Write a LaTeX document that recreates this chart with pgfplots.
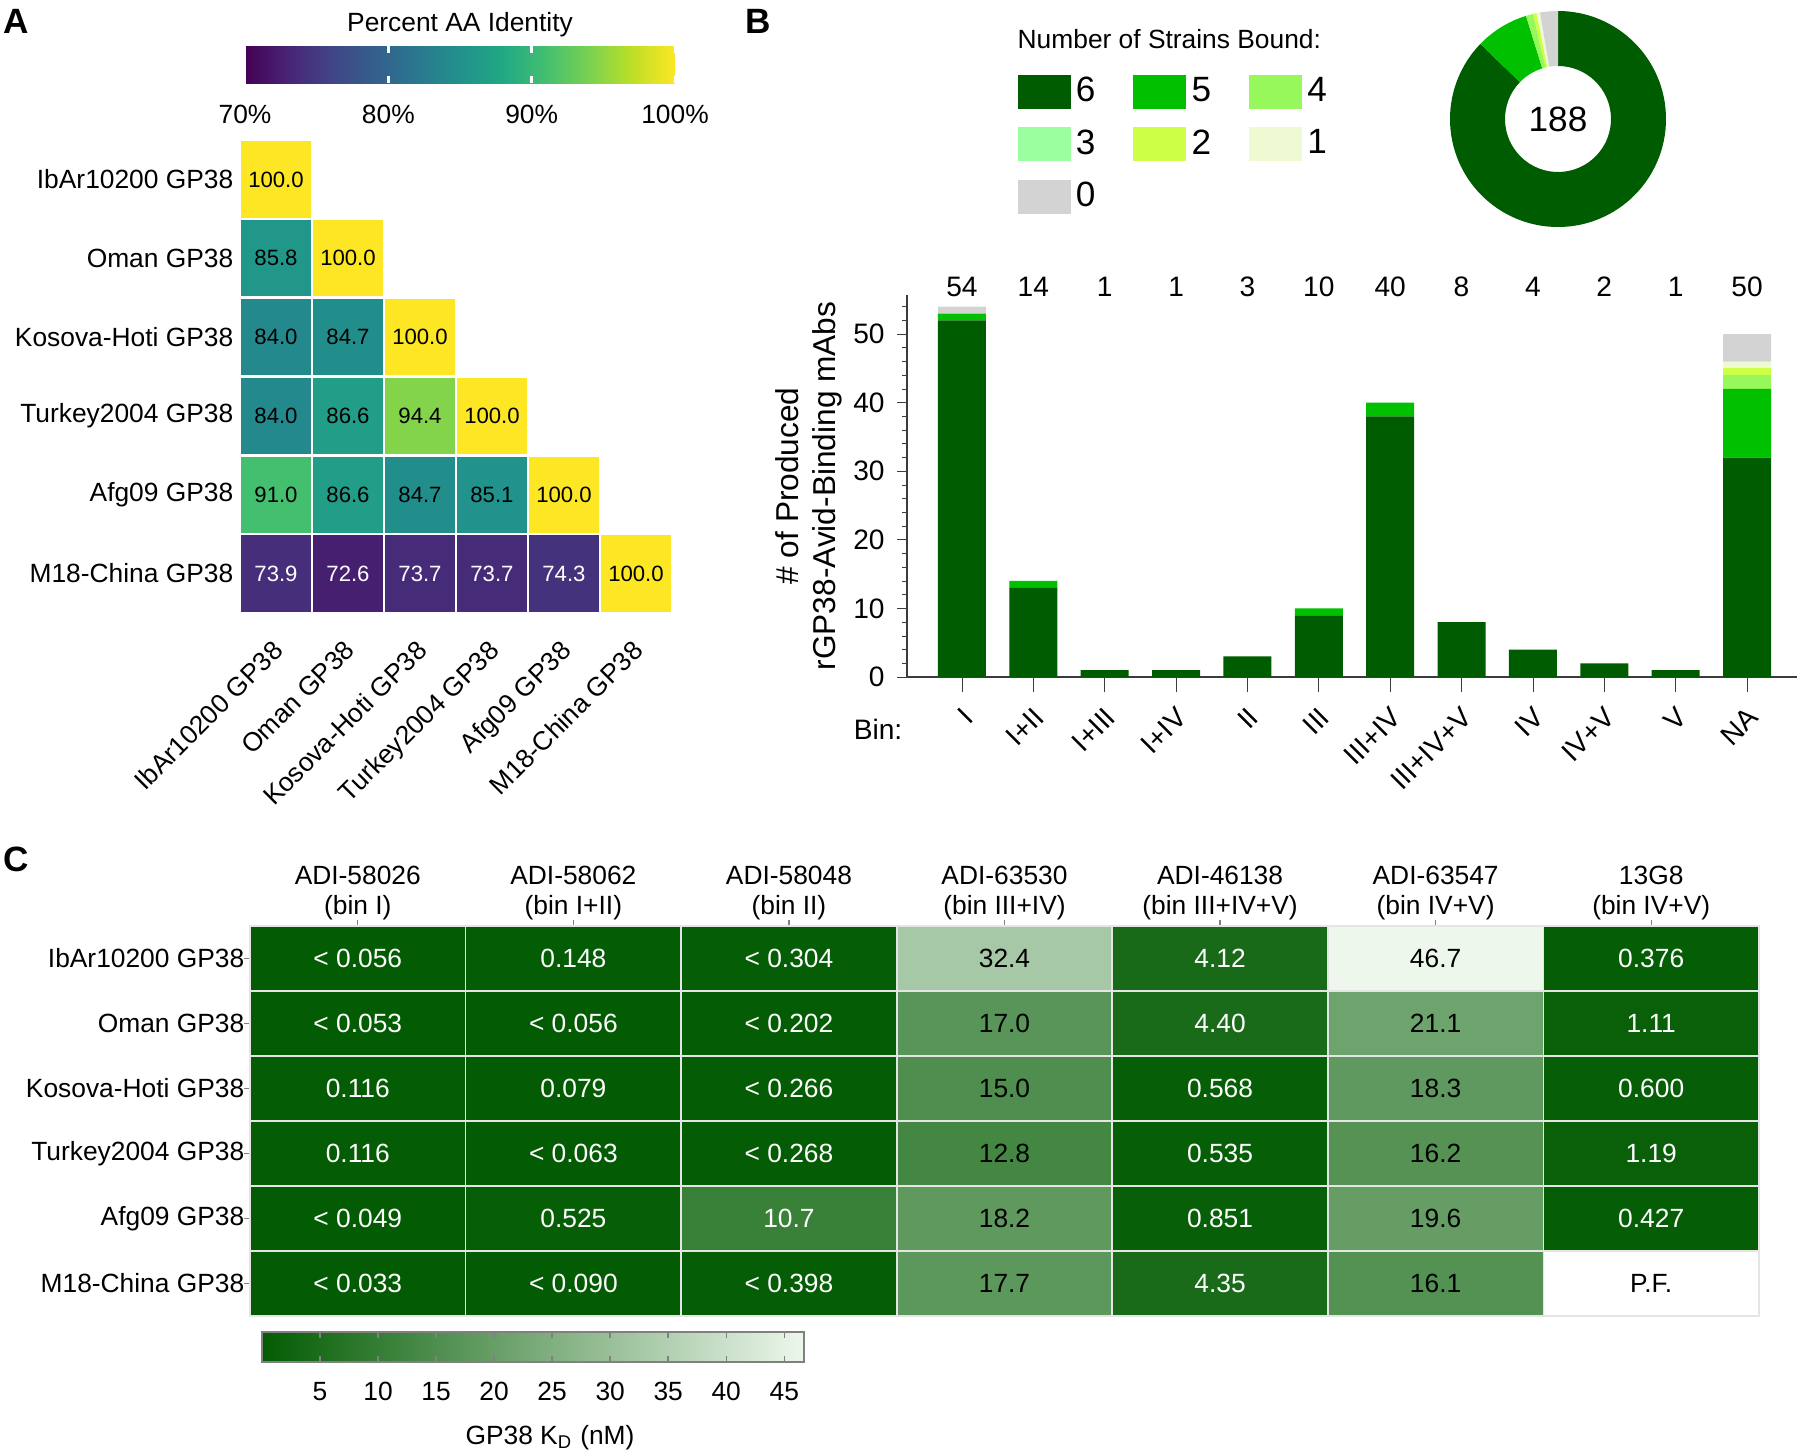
\documentclass[border=0pt]{standalone}
\usepackage{fontspec}
\setmainfont{Liberation Sans}
\usepackage{pgfplots}
\usepackage{pgfplotstable}
\pgfplotsset{compat=1.18}

\newcommand\fs{\fontsize{7.5}{9}\selectfont}
\newcommand\fsb{\fontsize{8}{9.6}\selectfont}
\newcommand\fsc{\fontsize{6.3}{7.5}\selectfont}

\definecolor{s6}{RGB}{0,92,0}
\definecolor{s5}{RGB}{0,192,0}
\definecolor{s4}{RGB}{150,248,90}
\definecolor{s3}{RGB}{155,255,160}
\definecolor{s2}{RGB}{205,255,70}
\definecolor{s1}{RGB}{238,250,210}
\definecolor{s0}{RGB}{211,211,211}
\definecolor{axgray}{RGB}{60,60,60}

\pgfplotsset{
  /pgf/number format/assume math mode=true,
  swatch/.style={legend image code/.code={\fill[##1] (0cm,-0.17cm) rectangle (0.53cm,0.17cm);}},
  colormap={vir}{rgb255=(68,1,84) rgb255=(72,36,117) rgb255=(65,68,135) rgb255=(53,95,141)
    rgb255=(42,120,142) rgb255=(33,145,140) rgb255=(34,168,132) rgb255=(68,191,112)
    rgb255=(122,209,81) rgb255=(189,223,38) rgb255=(253,231,37)},
  colormap={kd}{rgb255=(3,92,3) rgb255=(237,247,236)},
}

% heatmap cells, sized to the grid
\pgfdeclareplotmark{cellA}{\pgfpathrectanglecorners{\pgfpoint{-0.36cm}{-0.394cm}}{\pgfpoint{0.36cm}{0.394cm}}\pgfusepathqfillstroke}
\pgfdeclareplotmark{cellC}{\pgfpathrectanglecorners{\pgfpoint{-1.078cm}{-0.325cm}}{\pgfpoint{1.078cm}{0.325cm}}\pgfusepathqfillstroke}

% percent AA identity (lower triangle); w=1 -> white text
\pgfplotstableread{
x y v w
0 0 100.0 0
0 1 85.8 0
1 1 100.0 0
0 2 84.0 0
1 2 84.7 0
2 2 100.0 0
0 3 84.0 0
1 3 86.6 0
2 3 94.4 0
3 3 100.0 0
0 4 91.0 0
1 4 86.6 0
2 4 84.7 0
3 4 85.1 0
4 4 100.0 0
0 5 73.9 1
1 5 72.6 1
2 5 73.7 1
3 5 73.7 1
4 5 74.3 1
5 5 100.0 0
}\identity

% GP38 KD (nM)
\pgfplotstableread[col sep=comma]{
x,y,v,lab,w
0,0,0.056,< 0.056,1
1,0,0.148,0.148,1
2,0,0.304,< 0.304,1
3,0,32.4,32.4,0
4,0,4.12,4.12,1
5,0,46.7,46.7,0
6,0,0.376,0.376,1
0,1,0.053,< 0.053,1
1,1,0.056,< 0.056,1
2,1,0.202,< 0.202,1
3,1,17.0,17.0,0
4,1,4.40,4.40,1
5,1,21.1,21.1,0
6,1,1.11,1.11,1
0,2,0.116,0.116,1
1,2,0.079,0.079,1
2,2,0.266,< 0.266,1
3,2,15.0,15.0,0
4,2,0.568,0.568,1
5,2,18.3,18.3,0
6,2,0.600,0.600,1
0,3,0.116,0.116,1
1,3,0.063,< 0.063,1
2,3,0.268,< 0.268,1
3,3,12.8,12.8,0
4,3,0.535,0.535,1
5,3,16.2,16.2,0
6,3,1.19,1.19,1
0,4,0.049,< 0.049,1
1,4,0.525,0.525,1
2,4,10.7,10.7,1
3,4,18.2,18.2,0
4,4,0.851,0.851,1
5,4,19.6,19.6,0
6,4,0.427,0.427,1
0,5,0.033,< 0.033,1
1,5,0.090,< 0.090,1
2,5,0.398,< 0.398,1
3,5,17.7,17.7,0
4,5,4.35,4.35,1
5,5,16.1,16.1,0
}\kd

\begin{document}
\begin{tikzpicture}[font=\fs]
\useasboundingbox (0,0) rectangle (18,-14.52);

\node[font=\fontsize{10}{12}\selectfont\bfseries] at (0.16,-0.21) {A};
\node[font=\fontsize{10}{12}\selectfont\bfseries] at (7.58,-0.21) {B};
\node[font=\fontsize{10}{12}\selectfont\bfseries] at (0.16,-8.59) {C};
\node at (4.60,-0.25) {Percent AA Identity};

% ---------- A ----------
\begin{axis}[
  at={(2.40cm,-1.40cm)}, anchor=north west, scale only axis,
  width=4.32cm, height=4.73cm,
  xmin=-0.5, xmax=5.5, ymin=-0.5, ymax=5.5, y dir=reverse,
  axis line style={draw=none}, major tick length=0pt,
  xtick={0,...,5}, ytick={0,...,5},
  xticklabels={IbAr10200 GP38, Oman GP38, Kosova-Hoti GP38, Turkey2004 GP38, Afg09 GP38, M18-China GP38},
  yticklabels={IbAr10200 GP38, Oman GP38, Kosova-Hoti GP38, Turkey2004 GP38, Afg09 GP38, M18-China GP38},
  tick label style={font=\fs},
  xticklabel style={xshift=-0.05cm, yshift=-0.25cm, rotate=45, anchor=north east, inner sep=0pt},
  yticklabel style={inner sep=0pt, xshift=-0.06cm},
  colormap name=vir, point meta min=70, point meta max=100,
  colorbar horizontal,
  colorbar style={
    at={(0.0116,1.1205)}, anchor=south west,
    scale only axis, width=4.30cm, height=0.37cm,
    xtick={70,80,90,100},
    xticklabel={\pgfmathprintnumber{\tick}\%},
    xticklabel pos=lower, xtick pos=both,
    tick align=inside, major tick length=0.07cm,
    xtick style={white, line width=0.8pt},
    axis line style={draw=none},
    xticklabel style={font=\fs, yshift=-0.1cm},
  },
  clip=false,
]
\addplot[scatter, only marks, mark=cellA,
  scatter/use mapped color={draw=white, fill=mapped color},
  mark options={line width=0.7pt},
  point meta=\thisrow{v},
] table[x=x, y=y] {\identity};
\addplot[only marks, mark=none,
  point meta=\thisrow{v},
  visualization depends on={\thisrow{w}\as\wt},
  nodes near coords={\ifdim\wt pt>0.5pt\color{white}\fi\pgfmathprintnumber[fixed,fixed zerofill,precision=1]{\pgfplotspointmeta}},
  nodes near coords align=center,
  every node near coord/.append style={font=\fsc, anchor=center},
] table[x=x, y=y] {\identity};
\end{axis}

% ---------- B: stacked bars ----------
\begin{axis}[
  at={(9.07cm,-6.77cm)}, anchor=south west, scale only axis,
  width=8.90cm, height=3.82cm,
  ybar stacked, bar width=0.48cm,
  xmin=-0.77, xmax=11.70, ymin=0, ymax=55.7,
  axis lines*=left,
  axis line style={axgray, line width=0.8pt},
  tick label style={font=\fsb},
  xtick={0,...,11},
  xticklabels={I, I+II, I+III, I+IV, II, III, III+IV, III+IV+V, IV, IV+V, V, NA},
  xticklabel style={xshift=-0.01cm, yshift=-0.18cm, rotate=45, anchor=north east, inner sep=0pt},
  xtick style={axgray, /pgfplots/major tick length=0.15cm},
  ytick={0,10,...,50}, minor ytick={2,4,...,54},
  ytick style={axgray},
  tick align=outside, major tick length=0.1cm, minor tick length=0.05cm,
  ylabel={\# of Produced\\rGP38-Avid-Binding mAbs},
  ylabel style={align=center, font=\fontsize{9}{10.5}\selectfont, at={(axis description cs:-0.11,0.5)}, anchor=center},
  legend columns=3,
  legend cell align=left,
  legend style={draw=none, fill=none, at={(axis description cs:0.1236,1.586)}, anchor=north west,
    inner sep=0pt, font=\fontsize{10}{12}\selectfont, row sep=0.12cm,
    nodes={inner sep=1.5pt},
    /tikz/every even column/.append style={column sep=0.326cm}},
  clip=false,
]
\addplot[fill=s6, draw=none, swatch] coordinates {(0,52) (1,13) (2,1) (3,1) (4,3) (5,9) (6,38) (7,8) (8,4) (9,2) (10,1) (11,32)};
\addplot[fill=s5, draw=none, swatch] coordinates {(0,1) (1,1) (2,0) (3,0) (4,0) (5,1) (6,2) (7,0) (8,0) (9,0) (10,0) (11,10)};
\addplot[fill=s4, draw=none, swatch] coordinates {(0,0) (1,0) (2,0) (3,0) (4,0) (5,0) (6,0) (7,0) (8,0) (9,0) (10,0) (11,2)};
\addplot[fill=s3, draw=none, swatch] coordinates {(0,0) (1,0) (2,0) (3,0) (4,0) (5,0) (6,0) (7,0) (8,0) (9,0) (10,0) (11,0)};
\addplot[fill=s2, draw=none, swatch] coordinates {(0,0) (1,0) (2,0) (3,0) (4,0) (5,0) (6,0) (7,0) (8,0) (9,0) (10,0) (11,1)};
\addplot[fill=s1, draw=none, swatch] coordinates {(0,0) (1,0) (2,0) (3,0) (4,0) (5,0) (6,0) (7,0) (8,0) (9,0) (10,0) (11,1)};
\addplot[fill=s0, draw=none, swatch] coordinates {(0,1) (1,0) (2,0) (3,0) (4,0) (5,0) (6,0) (7,0) (8,0) (9,0) (10,0) (11,4)};
\legend{6,5,4,3,2,1,0}
\foreach \t [count=\i from 0] in {54,14,1,1,3,10,40,8,4,2,1,50}{
  \edef\temp{\noexpand\node[font=\noexpand\fsb] at (axis cs:\i,56.9) {\t};}\temp
}
\end{axis}
\node[font=\fsb] at (8.78,-7.29) {Bin:};
\node[anchor=west, inner sep=0pt] at (10.17,-0.39) {Number of Strains Bound:};

% ---------- B: donut ----------
\begin{axis}[
  at={(15.58cm,-1.19cm)}, anchor=center, hide axis, scale only axis,
  x=1cm, y=1cm, xmin=-1.2, xmax=1.2, ymin=-1.2, ymax=1.2, clip=false,
]
\gdef\cum{0}
\foreach \n/\c in {164/s6,15/s5,2/s4,0/s3,1/s2,1/s1,5/s0}{
  \pgfmathsetmacro\a{90-\cum/188*360}
  \pgfmathsetmacro\b{90-(\cum+\n)/188*360}
  \pgfmathsetmacro\xa{1.08*cos(\a)}
  \pgfmathsetmacro\ya{1.08*sin(\a)}
  \pgfmathsetmacro\xb{0.53*cos(\b)}
  \pgfmathsetmacro\yb{0.53*sin(\b)}
  \edef\temp{\noexpand\fill[\c] (axis cs:\xa,\ya) arc[start angle=\a, end angle=\b, radius=1.08cm] -- (axis cs:\xb,\yb) arc[start angle=\b, end angle=\a, radius=0.53cm] -- cycle;}
  \temp
  \pgfmathsetmacro\cumn{\cum+\n}
  \xdef\cum{\cumn}
}
\node[font=\fontsize{10}{12}\selectfont] at (axis cs:0,0) {188};
\end{axis}

% ---------- C ----------
\begin{axis}[
  at={(2.50cm,-9.26cm)}, anchor=north west, scale only axis,
  width=15.09cm, height=3.90cm,
  xmin=-0.5, xmax=6.5, ymin=-0.5, ymax=5.5, y dir=reverse,
  xtick={0,...,6}, ytick={0,...,5},
  xtick pos=right, xticklabel pos=right, ytick pos=left,
  xticklabels={{ADI-58026\\(bin I)},{ADI-58062\\(bin I+II)},{ADI-58048\\(bin II)},{ADI-63530\\(bin III+IV)},{ADI-46138\\(bin III+IV+V)},{ADI-63547\\(bin IV+V)},{13G8\\(bin IV+V)}},
  yticklabels={IbAr10200 GP38, Oman GP38, Kosova-Hoti GP38, Turkey2004 GP38, Afg09 GP38, M18-China GP38},
  tick label style={font=\fs},
  xticklabel style={align=center, font=\fontsize{7.5}{8.6}\selectfont, yshift=-0.125cm},
  yticklabel style={inner sep=0pt, xshift=0.01cm},
  tick align=outside, major tick length=0.06cm, tick style={gray, thin},
  axis line style={gray, thin},
  colormap name=kd,
  point meta min=0, point meta max=46.7,
  colorbar horizontal,
  colorbar style={
    at={(0.00795,-0.041)}, anchor=north west,
    scale only axis, width=5.42cm, height=0.30cm,
    xtick={5,10,...,45},
    xticklabel pos=lower, xtick pos=both,
    tick align=inside, major tick length=0.06cm,
    xtick style={gray},
    axis line style={gray},
    xticklabel style={font=\fs, yshift=-0.08cm},
    xlabel={GP38 K\textsubscript{D} (nM)}, xlabel style={font=\fs, xshift=0.17cm},
  },
  clip=false,
]
\addplot[scatter, only marks, mark=cellC,
  scatter/use mapped color={draw=white!80!gray, fill=mapped color},
  mark options={line width=0.5pt},
  point meta=\thisrow{v},
] table[x=x, y=y] {\kd};
\addplot[only marks, mark=none,
  point meta=explicit symbolic,
  visualization depends on={\thisrow{w}\as\wt},
  nodes near coords={\ifdim\wt pt>0.5pt\color{white}\fi\pgfplotspointmeta},
  nodes near coords align=center,
  every node near coord/.append style={font=\fs, anchor=center},
] table[x=x, y=y, meta=lab] {\kd};
\addplot[only marks, mark=cellC, mark options={fill=white, draw=white!80!gray, line width=0.5pt},
  point meta=explicit symbolic,
  nodes near coords, nodes near coords align=center,
  every node near coord/.append style={font=\fs, anchor=center},
] coordinates {(6,5) [P.F.]};
\end{axis}

\end{tikzpicture}
\end{document}
